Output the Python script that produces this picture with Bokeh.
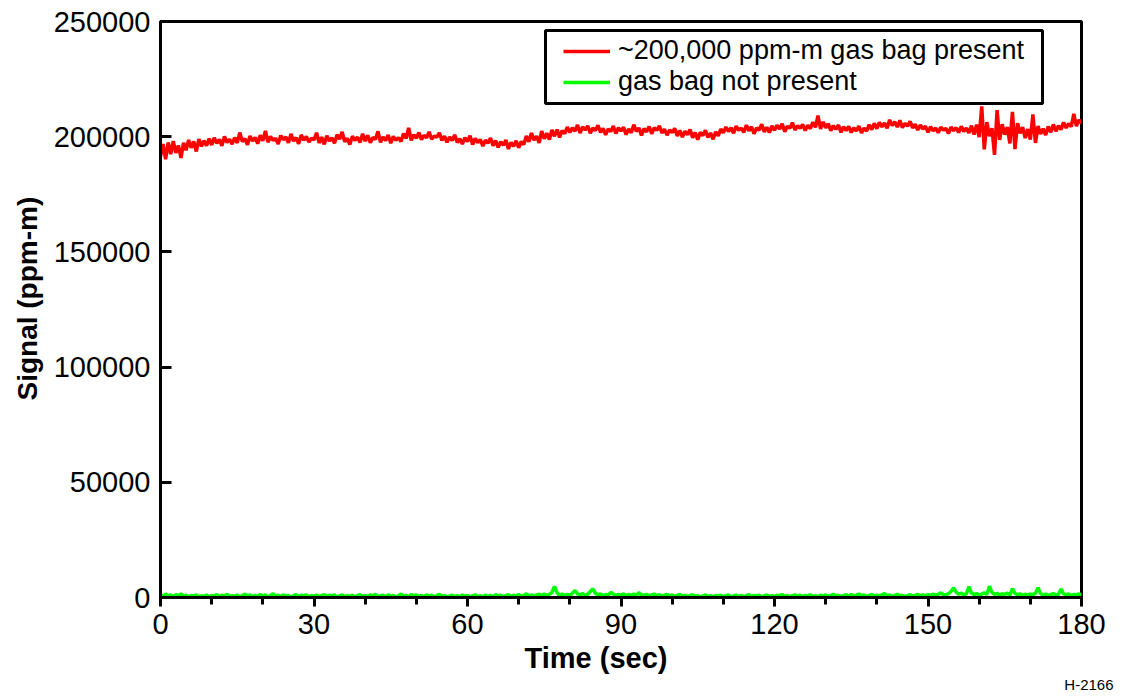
from bokeh.plotting import figure
from bokeh.models import Range1d, FixedTicker, BasicTickFormatter, Legend, LegendItem, Title, BoxAnnotation
from bokeh.embed import file_html
from bokeh.resources import INLINE

# Signal with ~200,000 ppm-m gas bag present (ppm-m), sampled every 0.5 s from 0 to 180 s
gas_bag_present = [
    191500, 196800, 190200, 197500, 192400, 198100, 193000, 196200, 190800, 197400, 194100, 198600, 195200, 197900, 193600, 199000, 195800, 198300, 196100, 199200,
    196400, 199500, 197200, 198800, 196000, 200100, 197500, 198900, 196800, 199600, 197300, 201800, 197900, 199200, 196500, 200300, 198100, 199700, 197000, 200600,
    198200, 202500, 197600, 200100, 198400, 199300, 196800, 200500, 198700, 199900, 197400, 201200, 198100, 199600, 196900, 200800, 198500, 200100, 197700, 199400,
    198600, 201700, 197300, 199800, 196700, 200400, 198200, 199500, 197100, 200900, 198900, 202100, 197800, 199300, 196600, 200200, 198400, 199800, 197500, 201300,
    198100, 200600, 197400, 199700, 198800, 202300, 197600, 199900, 198300, 200700, 197200, 200100, 198500, 199600, 197900, 201400, 199200, 203800, 198400, 200900,
    199300, 201800, 198700, 200600, 199500, 202100, 198900, 200300, 199800, 201700, 198400, 200200, 197600, 199900, 198300, 200800, 197500, 199100, 196800, 199600,
    197900, 200400, 196600, 199200, 197400, 198800, 195900, 198500, 197200, 199400, 196100, 198300, 195400, 197800, 196300, 198600, 194700, 197500, 195800, 198200,
    195200, 197900, 196600, 200300, 197800, 201600, 198500, 200200, 197300, 202400, 199100, 201500, 198800, 202900, 200200, 203100, 199700, 202600, 201300, 204200,
    201800, 203900, 202400, 205100, 201600, 204300, 202900, 204700, 201500, 203800, 202700, 204900, 201900, 203600, 200800, 203400, 202200, 204600, 201400, 203900,
    202500, 204100, 200900, 203300, 201700, 205200, 202300, 203800, 200600, 203500, 202100, 204400, 201300, 203900, 202800, 204700, 201600, 203200, 200700, 202900,
    201800, 203600, 200300, 202700, 199800, 202400, 200900, 203100, 199600, 201800, 198700, 201900, 200500, 202800, 199700, 201600, 198900, 202100, 200400, 203300,
    201700, 204200, 202300, 203900, 201500, 204600, 202800, 203700, 201900, 205000, 202600, 204300, 201300, 203800, 202900, 205400, 202100, 204100, 201800, 204700,
    202800, 204900, 203400, 205600, 202200, 204500, 203700, 206100, 202900, 204800, 203600, 205300, 202700, 204900, 203500, 206300, 204100, 209200, 203400, 206400,
    203900, 205700, 202600, 204800, 203200, 205100, 201900, 204300, 202700, 204500, 201800, 203900, 202500, 204600, 201600, 203700, 202400, 205200, 203100, 205800,
    203500, 206200, 204300, 205900, 203700, 207300, 204800, 206500, 204200, 207100, 203900, 205800, 204600, 206700, 203800, 205400, 202900, 205100, 203300, 204600,
    201900, 204300, 202500, 203800, 201700, 204100, 202900, 203600, 201400, 204200, 202600, 203900, 201800, 204500, 202300, 203700, 201600, 204800, 200900, 205200,
    199800, 213200, 194500, 206300, 200200, 203700, 192100, 211500, 198600, 205400, 200900, 204200, 197100, 210800, 194600, 205900, 201500, 204100, 199400, 203300,
    198800, 209700, 197300, 204600, 201200, 203500, 200700, 204400, 201900, 205300, 202400, 204800, 203100, 206200, 203800, 205700, 204400, 209900, 204600, 207300,
    205800,
]

# Signal with gas bag not present (ppm-m), sampled every 0.5 s from 0 to 180 s
gas_bag_absent = [
    1200, 400, 1500, 700, 1100, 300, 1300, 800, 1600, 500, 1000, 200, 900, 600, 1200, 100, 800, 500, 1100, 300,
    900, 600, 1300, 200, 1000, 700, 1400, 300, 800, 500, 1100, 200, 900, 1500, 600, 1200, 300, 1000, 400, 1300,
    700, 1100, 200, 900, 1700, 500, 1000, 300, 1200, 600, 900, 100, 800, 1300, 400, 1000, 700, 1200, 300, 900,
    500, 1100, 200, 800, 1300, 400, 1000, 600, 1200, 100, 700, 1100, 300, 900, 500, 1000, 200, 800, 1300, 400,
    900, 300, 1100, 600, 1400, 200, 800, 1000, 300, 1200, 600, 900, 100, 700, 1500, 400, 1000, 300, 1300, 800,
    1100, 400, 900, 200, 1200, 700, 1000, 300, 800, 1400, 500, 900, 100, 600, 1000, 300, 800, 200, 1100, 500,
    900, 200, 700, 1200, 400, 800, 100, 1000, 500, 900, 300, 1300, 600, 1000, 200, 800, 1200, 400, 1000, 600,
    1300, 500, 900, 1600, 700, 1200, 400, 1100, 1400, 800, 1500, 900, 1300, 2200, 4800, 2100, 1000, 1500, 900, 1400,
    800, 1900, 3000, 1600, 1100, 1700, 900, 1400, 2600, 3800, 1800, 1200, 1600, 800, 1300, 1000, 2200, 1500, 900, 1300,
    1000, 1600, 700, 1300, 900, 1500, 800, 2100, 1200, 1000, 1400, 700, 1100, 1500, 800, 1200, 600, 1000, 1300, 700,
    1100, 500, 900, 1300, 600, 1000, 400, 800, 1200, 500, 900, 300, 700, 1100, 400, 800, 200, 900, 600, 1000,
    400, 800, 1100, 300, 700, 1000, 500, 900, 200, 800, 1200, 400, 900, 600, 1000, 300, 700, 1100, 500, 800,
    400, 1000, 700, 1300, 500, 900, 300, 800, 1100, 600, 1000, 400, 900, 700, 1200, 500, 800, 300, 1000, 600,
    1100, 500, 900, 1400, 700, 1000, 400, 800, 1200, 600, 1300, 700, 1000, 1500, 800, 1100, 500, 900, 1300, 700,
    1000, 600, 1200, 1700, 800, 1100, 500, 900, 1400, 700, 1000, 400, 800, 1200, 600, 900, 1300, 700, 1100, 800,
    1200, 900, 1500, 1000, 1400, 2000, 1300, 1100, 1700, 2600, 4200, 2300, 1400, 1900, 1200, 1600, 4700, 1900, 1300, 1700,
    1100, 1500, 2000, 1300, 4900, 2200, 1400, 1800, 1100, 1600, 1300, 1900, 1000, 3900, 1800, 1200, 1600, 1000, 1400, 1100,
    1500, 1200, 1800, 4300, 1700, 1100, 1500, 900, 1300, 1700, 1000, 1400, 3700, 1600, 1200, 1500, 900, 1300, 1100, 1600,
    1000,
]

t_end = 180
time_present = [i * t_end / (len(gas_bag_present) - 1) for i in range(len(gas_bag_present))]
time_absent = [i * t_end / (len(gas_bag_absent) - 1) for i in range(len(gas_bag_absent))]

x_ticks = [0, 30, 60, 90, 120, 150, 180]
x_minor_ticks = [10, 20, 40, 50, 70, 80, 100, 110, 130, 140, 160, 170]
y_ticks = [0, 50000, 100000, 150000, 200000, 250000]

labels = ["~200,000 ppm-m gas bag present", "gas bag not present"]
x_label = "Time (sec)"
y_label = "Signal (ppm-m)"
figure_id = "H-2166"

FONT = "Liberation Sans"

# layout (pixels)
W, H = 1131, 696
LEFT, RIGHT, TOP, BOTTOM = 160, 1081, 21, 597
X0, X1, Y0, Y1 = 0, 180, 0, 250000


def dx(px):
    return X0 + (px - LEFT) * (X1 - X0) / (RIGHT - LEFT)


def dy(py):
    return Y0 + (BOTTOM - py) * (Y1 - Y0) / (BOTTOM - TOP)


p = figure(width=W, height=H, x_range=Range1d(X0, X1), y_range=Range1d(Y0, Y1),
           output_backend="svg", toolbar_location=None,
           min_border_left=LEFT, min_border_right=W - RIGHT,
           min_border_top=TOP, min_border_bottom=H - BOTTOM)
p.title.visible = False
p.background_fill_color = "white"
p.border_fill_color = "white"
p.outline_line_color = "black"
p.outline_line_width = 3
p.outline_line_alpha = 1.0
p.xgrid.visible = False
p.ygrid.visible = False

r_red = p.line(time_present, gas_bag_present, line_color="#ff0000", line_width=3.5)
r_green = p.line(time_absent, gas_bag_absent, line_color="#00ff00", line_width=3.5)

# X axis
xa = p.xaxis[0]
xa.ticker = FixedTicker(ticks=x_ticks, minor_ticks=x_minor_ticks)
xa.major_label_text_font = FONT
xa.major_label_text_font_size = "29px"
xa.major_label_text_color = "black"
xa.major_label_standoff = 7
xa.axis_line_width = 3
xa.axis_line_color = "black"
xa.major_tick_in = 0
xa.major_tick_out = 9
xa.major_tick_line_width = 3
xa.minor_tick_in = 0
xa.minor_tick_out = 7
xa.minor_tick_line_width = 3
xa.minor_tick_line_color = "black"

# Y axis
ya = p.yaxis[0]
ya.ticker = FixedTicker(ticks=y_ticks, minor_ticks=[])
ya.formatter = BasicTickFormatter(use_scientific=False)
ya.major_label_text_font = FONT
ya.major_label_text_font_size = "29px"
ya.major_label_text_color = "black"
ya.major_label_standoff = 10
ya.axis_line_width = 3
ya.axis_line_color = "black"
ya.major_tick_in = 11
ya.major_tick_out = 0
ya.major_tick_line_width = 3
ya.minor_tick_line_color = None

# axis titles as side titles (the reference places them slightly off-centre)
p.add_layout(Title(text=x_label, align="left", offset=524 - LEFT, standoff=6,
                   text_font=FONT, text_font_style="bold", text_font_size="29px",
                   text_color="black"), "below")
p.add_layout(Title(text=figure_id, align="right", offset=-(1113 - RIGHT), standoff=-5,
                   text_font=FONT, text_font_style="normal", text_font_size="15px",
                   text_color="black"), "below")
p.add_layout(Title(text=y_label, align="left", offset=BOTTOM - 400, standoff=15,
                   text_font=FONT, text_font_style="bold", text_font_size="28px",
                   text_color="black"), "left")

# legend frame
p.add_layout(BoxAnnotation(left=dx(545), right=dx(1042), top=dy(30), bottom=dy(103),
                           fill_color="white", fill_alpha=1.0,
                           line_color="black", line_alpha=1.0, line_width=3))

legend = Legend(items=[LegendItem(label=labels[0], renderers=[r_red]),
                       LegendItem(label=labels[1], renderers=[r_green])],
                location=(563 - LEFT, BOTTOM - 97))
legend.label_text_font = FONT
legend.label_text_font_size = "27px"
legend.label_text_color = "black"
legend.glyph_width = 47
legend.glyph_height = 26
legend.label_height = 26
legend.label_standoff = 8
legend.spacing = 0
legend.padding = 0
legend.margin = 0
legend.border_line_color = None
legend.background_fill_alpha = 0.0
p.add_layout(legend, "center")

with open("out.html", "w") as f:
    f.write(file_html(p, INLINE))
